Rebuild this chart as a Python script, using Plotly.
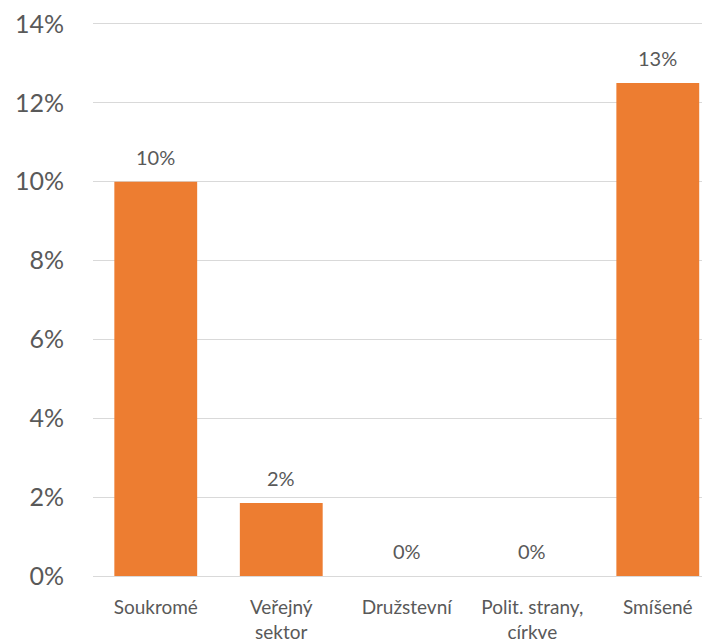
import plotly.graph_objects as go

categories = ["Soukromé", "Veřejný<br>sektor", "Družstevní", "Polit. strany,<br>církve", "Smíšené"]
values = [10.0, 1.85, 0.0, 0.0, 12.5]
y_ticks = [0, 2, 4, 6, 8, 10, 12, 14]
y_tick_labels = [f"{t}%" for t in y_ticks]

FONT = "Lato, 'Open Sans', sans-serif"
TXT = "#595959"

fig = go.Figure()
fig.add_trace(go.Bar(
    x=list(range(len(categories))),
    y=values,
    marker=dict(color="#ED7D31", line=dict(width=0)),
    width=0.66,
    hoverinfo="skip",
))

for i, v in enumerate(values):
    fig.add_annotation(
        x=i, y=v, text=f"{int(v + 0.5)}%", showarrow=False,
        yanchor="middle", yshift=25,
        font=dict(family=FONT, size=20, color=TXT),
    )

# page body has an 8px default margin, so the figure is sized/offset accordingly
fig.update_layout(
    width=702, height=635,
    margin=dict(l=85, r=0, t=14, b=67),
    paper_bgcolor="white", plot_bgcolor="white",
    showlegend=False,
    font=dict(family=FONT, color=TXT),
    xaxis=dict(
        tickmode="array",
        tickvals=list(range(len(categories))),
        ticktext=categories,
        range=[-0.5, 4.416],
        showgrid=False, zeroline=False,
        showline=False,
        ticks="",
        automargin=False,
        tickfont=dict(family=FONT, size=19, color=TXT),
        ticklabelstandoff=18,
        ticklabeloverflow="allow",
    ),
    yaxis=dict(
        range=[0, 14.05],
        tickmode="array",
        tickvals=y_ticks,
        ticktext=y_tick_labels,
        showgrid=True, gridcolor="#D9D9D9", gridwidth=1.3,
        zeroline=True, zerolinecolor="#D9D9D9", zerolinewidth=1.3,
        showline=False,
        ticks="",
        automargin=False,
        tickfont=dict(family=FONT, size=25, color=TXT),
        ticklabelstandoff=28,
        ticklabeloverflow="allow",
    ),
)

fig.write_html("out.html")
